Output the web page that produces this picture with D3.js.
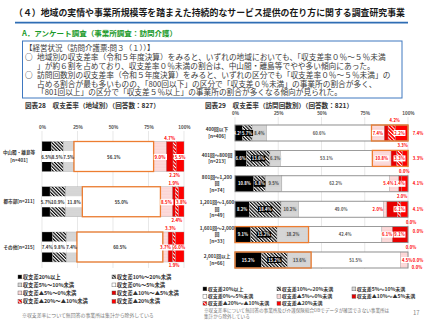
<!DOCTYPE html>
<html><head><meta charset="utf-8">
<script src="https://cdn.jsdelivr.net/npm/d3@7"></script>
<style>
html,body{margin:0;padding:0;background:#fff;}
svg{display:block;font-family:"Noto Sans CJK JP","Noto Sans",sans-serif;}
</style></head><body>
<svg id="c" width="427" height="320"></svg>
<script>
// ---------- data ----------
const pageTitle = "（４）地域の実情や事業所規模等を踏まえた持続的なサービス提供の在り方に関する調査研究事業";
const sectionTitle = "A．アンケート調査（事業所調査：訪問介護）";
const summaryHead = "【経営状況（訪問介護票:問３（１））】";
const summaryLines = [
  ["○", "地域別の収支差率（令和５年度決算）をみると、いずれの地域においても、「収支差率０％～５％未満"],
  ["", "」が約６割を占めており、収支差率０％未満の割合は、中山間・離島等でやや多い傾向にあった。"],
  ["○", "訪問回数別の収支差率（令和５年度決算）をみると、いずれの区分でも「収支差率０％～５％未満」の"],
  ["", "占める割合が最も多いものの、「800回以下」の区分で「収支差０％未満」の事業所の割合が多く、"],
  ["", "「801回以上」の区分で「収支差５％以上」の事業所の割合が多くなる傾向が見られた。"]
];
const chartTitleLeft = "図表28　収支差率（地域別）（回答数：827）";
const chartTitleRight = "図表29　収支差率（訪問回数別）（回答数：821）";

const seriesNames = ["収支差20%以上","収支差10%～20%未満","収支差5%～10%未満","収支差0%～5%未満",
  "収支差▲5%～0%未満","収支差▲10%～▲5%未満","収支差▲20%～▲10%未満","収支差▲20%未満"];
const tickValues = [0,25,50,75,100];
const tickLabels = ["0%","25%","50%","75%","100%"];

const regionCategories = ["中山間・離島等","都市部","その他"];
const regionLabelLines = [["中山間・離島等","[n=401]"],["都市部[n=211]"],["その他[n=215]"]];
const regionMountain = [6.5, 8.5, 7.5, 56.1, 9.0, 4.7, 2.2, 5.5];
const regionUrban    = [5.7, 10.9, 11.8, 55.0, 8.5, 1.9, 2.4, 3.8];
const regionOther    = [7.4, 9.8, 7.4, 60.5, 3.7, 3.3, 1.9, 6.0];
const regionValues = [regionMountain, regionUrban, regionOther];

const visitCategories = ["400回以下","401回～800回","801回～1,200回","1,201回～1,600回","1,601回～2,000回","2,001回以上"];
const visitLabelLines = [["400回以下","[n=406]"],["401回～800回","[n=213]"],["801回～1,200","回","[n=74]"],
  ["1,201回～1,600","回","[n=49]"],["1,601回～2,000","回","[n=33]"],["2,001回以上","[n=66]"]];
const visit400  = [4.2, 5.7, 8.4, 60.6, 7.4, 2.2, 4.2, 7.4];
const visit800  = [6.6, 13.6, 6.1, 53.1, 10.8, 3.3, 3.3, 3.3];
const visit1200 = [10.8, 6.8, 9.5, 62.2, 5.4, 1.4, 0.0, 4.1];
const visit1600 = [8.2, 18.4, 10.2, 49.0, 2.0, 6.1, 2.0, 4.1];
const visit2000 = [9.1, 15.2, 18.2, 42.4, 6.1, 9.1, 0.0, 0.0];
const visit2001 = [15.2, 15.2, 13.6, 51.5, 4.5, 0.0, 0.0, 0.0];
const visitValues = [visit400, visit800, visit1200, visit1600, visit2000, visit2001];

const noteLeft = ["※収支差率について無回答の事業所は集計から除外している"];
const noteRight = ["※収支差率について無回答の事業所及び介護保険総合DBでデータが確認できない事業所は","集計から除外している"];
const pageNumber = "17";

// ---------- styles ----------
const svg = d3.select("#c");
const defs = svg.append("defs");
function stripe(id, bg, fg, size, w, angle){
  const p = defs.append("pattern").attr("id",id).attr("patternUnits","userSpaceOnUse")
    .attr("width",size).attr("height",size).attr("patternTransform",`rotate(${angle})`);
  p.append("rect").attr("width",size).attr("height",size).attr("fill",bg);
  p.append("rect").attr("width",w).attr("height",size).attr("fill",fg);
}
function dots(id, bg, fg, size, r){
  const p = defs.append("pattern").attr("id",id).attr("patternUnits","userSpaceOnUse")
    .attr("width",size).attr("height",size);
  p.append("rect").attr("width",size).attr("height",size).attr("fill",bg);
  p.append("circle").attr("cx",size/2).attr("cy",size/2).attr("r",r).attr("fill",fg);
}
stripe("pHatch","#fff","#000",2.4,1.2,-45);
dots("pGray","#dcdcdc","#a8a8a8",1.6,0.35);
dots("pPink","#fff0f0","#f07070",1.5,0.38);
stripe("pRedHatch","#ff0000","#fff",2.6,0.9,-45);
const fills = ["#000","url(#pHatch)","url(#pGray)","#fff","url(#pPink)","#e80000","url(#pRedHatch)","#ff0000"];
const ORANGE = "#ed7d31";
const RED = "#ff0000";

function label(g, x, y, txt, o={}){
  const t = g.append("text").attr("x",x).attr("y",y).attr("dy","0.36em")
    .attr("text-anchor",o.anchor||"middle").attr("font-size",o.size||4.5)
    .attr("font-weight",o.weight||700).attr("fill",o.fill||"#333").text(txt);
  if (o.bg){
    const bb = t.node().getBBox();
    g.insert("rect",()=>t.node()).attr("x",bb.x-0.8).attr("y",y-3)
      .attr("width",bb.width+1.6).attr("height",6).attr("fill",o.bg);
  }
  return t;
}
const fmt = v => v.toFixed(1)+"%";

// ---------- header ----------
svg.append("text").attr("x",14).attr("y",16.3).attr("font-size",9).attr("font-weight",700)
  .attr("fill","#1a1a1a").attr("textLength",391).attr("lengthAdjust","spacingAndGlyphs").text(pageTitle);
svg.append("line").attr("x1",15).attr("x2",408).attr("y1",22.7).attr("y2",22.7)
  .attr("stroke","#2e6db4").attr("stroke-width",1.8);
svg.append("text").attr("x",22).attr("y",36).attr("font-size",7.3).attr("font-weight",700)
  .attr("fill","#1a9a2a").attr("textLength",155).attr("lengthAdjust","spacingAndGlyphs").text(sectionTitle);
svg.append("rect").attr("x",22.5).attr("y",41).attr("width",379.5).attr("height",57)
  .attr("fill","none").attr("stroke","#3f78c0").attr("stroke-width",1);
svg.append("text").attr("x",25).attr("y",48).attr("dy","0.36em").attr("font-size",7.5)
  .attr("fill","#3a3a3a").text(summaryHead);
const lineY = [57, 66, 75, 84, 92.5];
summaryLines.forEach((l,i)=>{
  if (l[0]) svg.append("text").attr("x",25).attr("y",lineY[i]).attr("dy","0.36em").attr("font-size",7.6)
    .attr("fill","#222").attr("font-weight",700).text(l[0]);
  svg.append("text").attr("x",37).attr("y",lineY[i]).attr("dy","0.36em").attr("font-size",7.7)
    .attr("fill","#3a3a3a").text(l[1]);
});

// ---------- left chart ----------
const xL = d3.scaleLinear().domain([0,100]).range([42,184]);
const yL = d3.scalePoint().domain(regionCategories).range([156.5,247]);
const hL = 30;
const gL = svg.append("g");
gL.append("text").attr("x",25).attr("y",106).attr("dy","0.36em").attr("font-size",6.6)
  .attr("font-weight",700).attr("fill","#333").text(chartTitleLeft);
gL.append("g").selectAll("line").data(tickValues).join("line")
  .attr("x1",d=>xL(d)).attr("x2",d=>xL(d)).attr("y1",131).attr("y2",268)
  .attr("stroke","#d9d9d9").attr("stroke-width",0.6);
const axL = gL.append("g").attr("transform","translate(0,129)")
  .call(d3.axisTop(xL).tickValues(tickValues).tickFormat((d,i)=>tickLabels[i]).tickSize(0).tickPadding(0));
axL.select(".domain").remove();
axL.selectAll("text").attr("font-size",4.8).attr("font-weight",700).attr("fill","#555").attr("font-family",null);

regionCategories.forEach((cat,r)=>{
  const vals = regionValues[r];
  const ends = Array.from(d3.cumsum(vals));
  const starts = ends.map((e,i)=>e-vals[i]);
  const cy = yL(cat);
  const g = gL.append("g");
  g.selectAll("rect.seg").data(vals).join("rect").attr("class","seg")
    .attr("x",(d,i)=>xL(starts[i])).attr("width",(d,i)=>xL(ends[i])-xL(starts[i]))
    .attr("y",cy-hL/2).attr("height",hL).attr("fill",(d,i)=>fills[i])
    .attr("stroke","#9a9a9a").attr("stroke-width",0.35);
  for (let i=0;i<3;i++){
    g.append("rect").attr("x",xL(starts[i])).attr("width",xL(ends[i])-xL(starts[i]))
      .attr("y",cy-5.5).attr("height",11).attr("fill","#fff");
  }
  g.append("rect").attr("x",xL(starts[3])).attr("width",xL(ends[3])-xL(starts[3]))
    .attr("y",cy-hL/2).attr("height",hL).attr("fill","none").attr("stroke",ORANGE).attr("stroke-width",1.3);
  const mid = i => xL((starts[i]+ends[i])/2);
  for (let i=0;i<4;i++) label(g, mid(i), cy+0.5, fmt(vals[i]), {fill:"#333", size:4.4});
  label(g, mid(4), cy+0.5, fmt(vals[4]), {fill:RED, bg:"#fff", size:4.4});
  label(g, mid(5), cy-18.5, fmt(vals[5]), {fill:RED, size:4.4});
  label(g, mid(6), cy+18.5, fmt(vals[6]), {fill:RED, size:4.4});
  label(g, mid(7), cy+0.5, fmt(vals[7]), {fill:RED, bg:"#fff", size:4.4});
  const lines = regionLabelLines[r];
  lines.forEach((t,k)=>{
    g.append("text").attr("x",19).attr("y",cy+(k-(lines.length-1)/2)*8).attr("dy","0.36em")
      .attr("text-anchor","middle").attr("font-size",4.6).attr("font-weight",700).attr("fill","#333").text(t);
  });
});

// ---------- right chart ----------
const xR = d3.scaleLinear().domain([0,100]).range([235,408]);
const yR = d3.scalePoint().domain(visitCategories).range([133,260]);
const hR = 16;
const visitHighlight = [[4,7],[4,7],null,null,[0,2],[0,2]];
const gR = svg.append("g");
gR.append("text").attr("x",205).attr("y",106).attr("dy","0.36em").attr("font-size",6.6)
  .attr("font-weight",700).attr("fill","#333").text(chartTitleRight);
gR.append("g").selectAll("line").data(tickValues).join("line")
  .attr("x1",d=>xR(d)).attr("x2",d=>xR(d)).attr("y1",117).attr("y2",269)
  .attr("stroke","#d9d9d9").attr("stroke-width",0.6);
const axR = gR.append("g").attr("transform","translate(0,115)")
  .call(d3.axisTop(xR).tickValues(tickValues).tickFormat((d,i)=>tickLabels[i]).tickSize(0).tickPadding(0));
axR.select(".domain").remove();
axR.selectAll("text").attr("font-size",4.8).attr("font-weight",700).attr("fill","#555").attr("font-family",null);

visitCategories.forEach((cat,r)=>{
  const vals = visitValues[r];
  const ends = Array.from(d3.cumsum(vals));
  const starts = ends.map((e,i)=>e-vals[i]);
  const cy = yR(cat);
  const g = gR.append("g");
  g.selectAll("rect.seg").data(vals).join("rect").attr("class","seg")
    .attr("x",(d,i)=>xR(starts[i])).attr("width",(d,i)=>Math.max(0,xR(Math.min(100,ends[i]))-xR(starts[i])))
    .attr("y",cy-hR/2).attr("height",hR).attr("fill",(d,i)=>fills[i])
    .attr("stroke","#9a9a9a").attr("stroke-width",0.35);
  g.append("rect").attr("x",xR(0)).attr("width",xR(100)-xR(0)).attr("y",cy-hR/2).attr("height",hR)
    .attr("fill","none").attr("stroke","#8c8c8c").attr("stroke-width",0.8);
  const hl = visitHighlight[r];
  if (hl) g.append("rect").attr("x",xR(starts[hl[0]])).attr("width",xR(Math.min(100,ends[hl[1]]))-xR(starts[hl[0]]))
    .attr("y",cy-hR/2).attr("height",hR).attr("fill","none").attr("stroke",ORANGE).attr("stroke-width",1.3);
  const mid = i => xR((starts[i]+Math.min(100,ends[i]))/2);
  const S = 4.2;
  label(g, mid(0), cy, fmt(vals[0]), {fill:"#fff", size:S});
  label(g, mid(1), cy, fmt(vals[1]), {fill:"#fff", bg:"#000", size:S});
  label(g, mid(2), cy, fmt(vals[2]), {fill:"#444", bg:"#d0d0d0", size:S});
  label(g, mid(3), cy, fmt(vals[3]), {fill:"#555", size:S});
  const boxX = xR(100)-8.5;
  const noBox = vals[5]===0 && ends[4]>=99.9;
  if (vals[4] < 3) label(g, xR(starts[4])-0.5, cy, fmt(vals[4]), {fill:RED, anchor:"end", size:S});
  else label(g, noBox ? mid(4)+3 : Math.min(mid(4), boxX-11), cy, fmt(vals[4]), {fill:RED, bg:"#fff", size:S});
  if (noBox) label(g, xR(100)+9, cy+7, fmt(vals[5]), {fill:RED, size:S});
  else label(g, boxX, cy, fmt(vals[5]), {fill:RED, bg:"#fff", size:S});
  label(g, Math.min(mid(6)+3, xR(100)+8), cy-12.5, fmt(vals[6]), {fill:RED, size:S});
  label(g, xR(100)+10, cy - (vals[7]===0 && !noBox ? 3 : 0), fmt(vals[7]), {fill:RED, size:S});
  const lines = visitLabelLines[r];
  lines.forEach((t,k)=>{
    g.append("text").attr("x",217).attr("y",cy+(k-(lines.length-1)/2)*6.5).attr("dy","0.36em")
      .attr("text-anchor","middle").attr("font-size",4.7).attr("font-weight",700).attr("fill","#333").text(t);
  });
});

// ---------- legends ----------
function legend(x0s, y0s, ncol, size){
  const g = svg.append("g");
  seriesNames.forEach((n,i)=>{
    const x = x0s[i%ncol], y = y0s[Math.floor(i/ncol)];
    g.append("rect").attr("x",x).attr("y",y-2).attr("width",3.8).attr("height",3.8)
      .attr("fill",fills[i]).attr("stroke","#555").attr("stroke-width",0.4);
    g.append("text").attr("x",x+4.8).attr("y",y).attr("dy","0.36em").attr("font-size",size)
      .attr("font-weight",700).attr("fill","#333").text(n);
  });
}
legend([18,112],[277,285,293,301.5],2,5.3);
legend([203,277,352],[289,296.5,303.5],3,5.0);

noteLeft.forEach((t,i)=>svg.append("text").attr("x",22).attr("y",315+i*6).attr("dy","0.36em")
  .attr("font-size",4.9).attr("fill","#777").text(t));
noteRight.forEach((t,i)=>svg.append("text").attr("x",204).attr("y",310+i*6).attr("dy","0.36em")
  .attr("font-size",4.6).attr("fill","#777").text(t));
svg.append("text").attr("x",413).attr("y",313).attr("dy","0.36em").attr("font-size",6)
  .attr("fill","#888").text(pageNumber);
</script>
</body></html>
